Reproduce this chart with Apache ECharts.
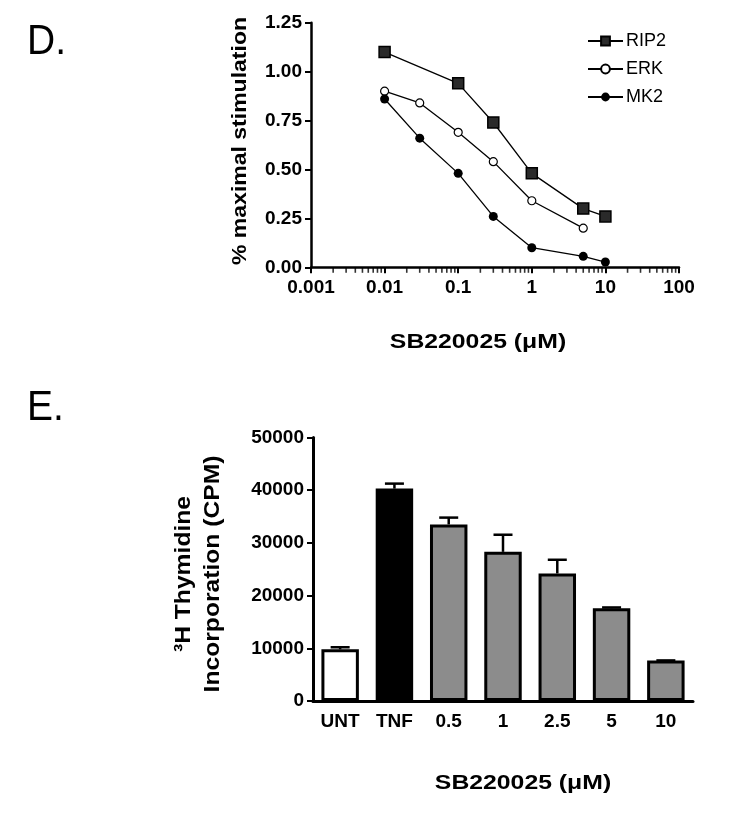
<!DOCTYPE html>
<html>
<head>
<meta charset="utf-8">
<script src="https://cdn.jsdelivr.net/npm/echarts@6/dist/echarts.min.js"></script>
<style>html,body{margin:0;padding:0;background:#fff;}#c{width:735px;height:813px;}</style>
</head>
<body>
<div id="c"></div>
<script>
// ---- Panel D data ----
const doseRIP2 = [0.01, 0.1, 0.3, 1, 5, 10];
const valRIP2  = [1.10, 0.94, 0.74, 0.48, 0.30, 0.26];
const doseERK  = [0.01, 0.03, 0.1, 0.3, 1, 5];
const valERK   = [0.90, 0.84, 0.69, 0.54, 0.34, 0.20];
const doseMK2  = [0.01, 0.03, 0.1, 0.3, 1, 5, 10];
const valMK2   = [0.86, 0.66, 0.48, 0.26, 0.10, 0.056, 0.027];
const logTickLabels = ['0.001', '0.01', '0.1', '1', '10', '100'];

// ---- Panel E data ----
const categories = ['UNT', 'TNF', '0.5', '1', '2.5', '5', '10'];
const cpm        = [9800, 40300, 33500, 28300, 24200, 17600, 7700];
const cpmErr     = [400, 950, 1300, 3250, 2600, 150, 0];
const barFills   = ['#ffffff', '#000000', '#8c8c8c', '#8c8c8c', '#8c8c8c', '#8c8c8c', '#8c8c8c'];

const FONT = "'Liberation Sans', Arial, Helvetica, sans-serif";

// minor tick positions on the log axis (2..9 within each decade)
const minorTicks = [];
for (let d = -3; d < 2; d++) {
  for (let k = 2; k <= 9; k++) minorTicks.push([k * Math.pow(10, d), 0]);
}

const pair = (xs, ys) => xs.map((x, i) => [x, ys[i]]);

const chart = echarts.init(document.getElementById('c'), null, {renderer: 'canvas'});

function renderErr(params, api) {
  const i = api.value(0), v = api.value(1), e = api.value(2);
  const base = api.coord([i, v]);
  const top = api.coord([i, v + e]);
  const half = api.size([1, 0])[0] * 0.175;
  return {
    type: 'group',
    children: [
      {type: 'line', shape: {x1: base[0], y1: base[1], x2: top[0], y2: top[1]}, style: {stroke: '#000', lineWidth: 2.5}},
      {type: 'line', shape: {x1: top[0] - half, y1: top[1], x2: top[0] + half, y2: top[1]}, style: {stroke: '#000', lineWidth: 2.5}}
    ]
  };
}

const lineCommon = {
  xAxisIndex: 0, yAxisIndex: 0,
  lineStyle: {color: '#000', width: 1.3},
  emphasis: {disabled: true},
  animation: false,
  clip: false
};

const option = {
  animation: false,
  backgroundColor: '#fff',
  textStyle: {fontFamily: FONT},
  grid: [
    {left: 311, top: 22.7, width: 368, height: 244.6},
    {left: 313, top: 437.5, width: 380, height: 263.5}
  ],
  legend: {
    data: ['RIP2', 'ERK', 'MK2'],
    orient: 'vertical',
    left: 582,
    top: 27,
    itemWidth: 35,
    itemHeight: 11,
    itemGap: 10,
    textStyle: {fontFamily: FONT, fontSize: 18, color: '#000', lineHeight: 18, padding: [0, 0, 0, -2]},
    selectedMode: false
  },
  xAxis: [
    {
      type: 'log', logBase: 10, min: 0.001, max: 100, gridIndex: 0,
      axisLine: {lineStyle: {color: '#000', width: 2.5}},
      axisTick: {length: 6, lineStyle: {color: '#000', width: 2}},
      axisLabel: {
        color: '#000', fontFamily: FONT, fontWeight: 'bold', fontSize: 19, margin: 11,
        formatter: function (v) {
          const e = Math.round(Math.log10(v));
          return logTickLabels[e + 3];
        }
      },
      splitLine: {show: false}
    },
    {
      type: 'category', data: categories, gridIndex: 1,
      axisLine: {lineStyle: {color: '#000', width: 3}},
      axisTick: {alignWithLabel: true, length: 6, lineStyle: {color: '#000', width: 2}},
      axisLabel: {color: '#000', fontFamily: FONT, fontWeight: 'bold', fontSize: 19, margin: 11},
      splitLine: {show: false}
    }
  ],
  yAxis: [
    {
      type: 'value', min: 0, max: 1.25, interval: 0.25, gridIndex: 0,
      axisLine: {show: true, lineStyle: {color: '#000', width: 2.5}},
      axisTick: {show: true, length: 6, lineStyle: {color: '#000', width: 2}},
      axisLabel: {color: '#000', fontFamily: FONT, fontWeight: 'bold', fontSize: 19, margin: 9,
        formatter: v => v.toFixed(2)},
      splitLine: {show: false}
    },
    {
      type: 'value', min: 0, max: 50000, interval: 10000, gridIndex: 1,
      axisLine: {show: true, lineStyle: {color: '#000', width: 3}},
      axisTick: {show: true, length: 6, lineStyle: {color: '#000', width: 2}},
      axisLabel: {color: '#000', fontFamily: FONT, fontWeight: 'bold', fontSize: 19, margin: 9,
        formatter: v => String(v)},
      splitLine: {show: false}
    }
  ],
  series: [
    Object.assign({}, lineCommon, {
      name: 'RIP2', type: 'line', data: pair(doseRIP2, valRIP2),
      symbol: 'rect', symbolSize: 11,
      itemStyle: {color: '#2a2a2a', borderColor: '#000', borderWidth: 1.5}
    }),
    Object.assign({}, lineCommon, {
      name: 'ERK', type: 'line', data: pair(doseERK, valERK),
      symbol: 'circle', symbolSize: 8,
      itemStyle: {color: '#fff', borderColor: '#000', borderWidth: 1.2}
    }),
    Object.assign({}, lineCommon, {
      name: 'MK2', type: 'line', data: pair(doseMK2, valMK2),
      symbol: 'circle', symbolSize: 9,
      itemStyle: {color: '#000', borderColor: '#000', borderWidth: 0}
    }),
    {
      name: 'minor', type: 'scatter', xAxisIndex: 0, yAxisIndex: 0,
      data: minorTicks, symbol: 'rect', symbolSize: [1.6, 5], symbolOffset: [0, 3],
      itemStyle: {color: '#000'}, silent: true, clip: false, z: 1
    },
    {
      name: 'cpm', type: 'bar', xAxisIndex: 1, yAxisIndex: 1,
      data: cpm.map((v, i) => ({value: v, itemStyle: {color: barFills[i]}})),
      barCategoryGap: '31%',
      itemStyle: {borderColor: '#000', borderWidth: 3},
      emphasis: {disabled: true}
    },
    {
      name: 'err', type: 'custom', xAxisIndex: 1, yAxisIndex: 1,
      data: categories.map((c, i) => [i, cpm[i], cpmErr[i]]),
      renderItem: renderErr, z: 5, silent: true
    }
  ],
  graphic: [
    {type: 'text', x: 27, y: 42, scaleY: 1.1, style: {text: 'D.', font: "39px " + FONT, fill: '#000', align: 'left', verticalAlign: 'middle'}},
    {type: 'text', x: 27, y: 408, scaleY: 1.1, style: {text: 'E.', font: "39px " + FONT, fill: '#000', align: 'left', verticalAlign: 'middle'}},
    {type: 'text', x: 240, y: 141, rotation: Math.PI / 2, scaleX: 1.15,
      style: {text: '% maximal stimulation', font: "bold 20px " + FONT, fill: '#000', align: 'center', verticalAlign: 'middle'}},
    {type: 'text', x: 478, y: 342, scaleX: 1.18,
      style: {text: 'SB220025 (μM)', font: "bold 21px " + FONT, fill: '#000', align: 'center', verticalAlign: 'middle'}},
    {type: 'text', x: 198, y: 574, rotation: Math.PI / 2, scaleX: 1.12,
      style: {text: '³H Thymidine\nIncorporation (CPM)', font: "bold 22px " + FONT, lineHeight: 29, fill: '#000', align: 'center', verticalAlign: 'middle'}},
    {type: 'text', x: 523, y: 783, scaleX: 1.18,
      style: {text: 'SB220025 (μM)', font: "bold 21px " + FONT, fill: '#000', align: 'center', verticalAlign: 'middle'}}
  ]
};

chart.setOption(option);
</script>
</body>
</html>
